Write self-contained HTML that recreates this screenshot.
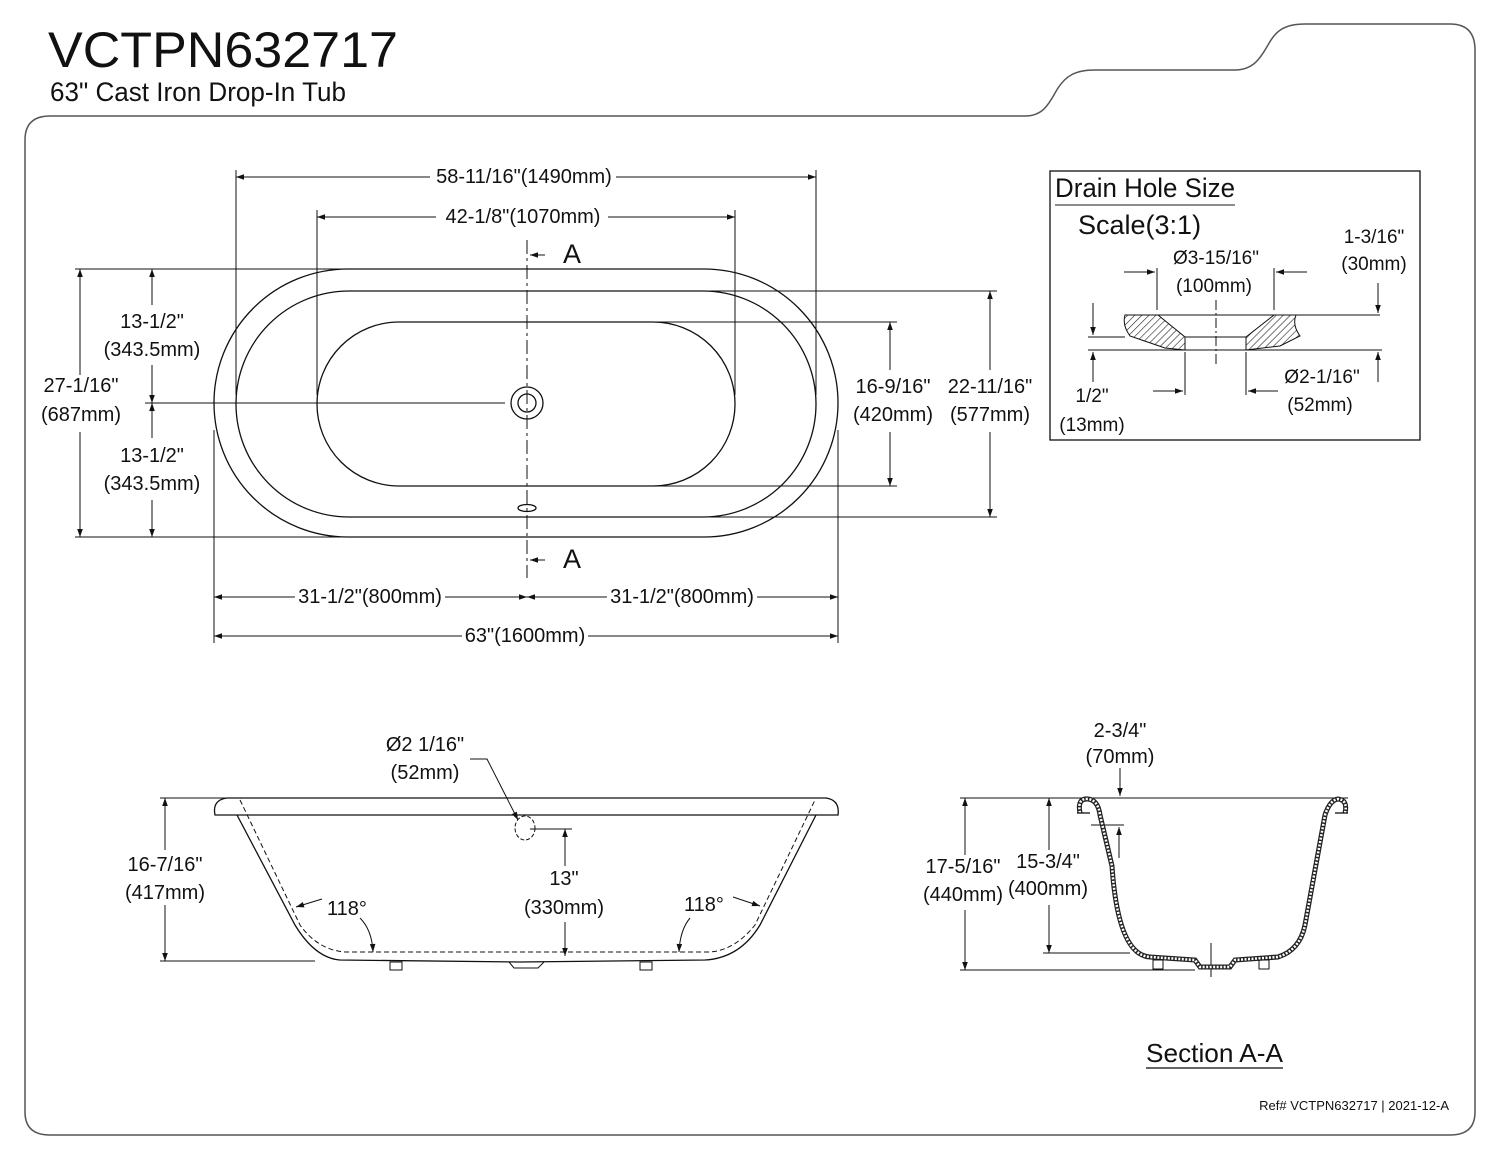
<!DOCTYPE html>
<html><head><meta charset="utf-8"><style>
html,body{margin:0;padding:0;background:#fff}
svg{display:block}
text{font-family:"Liberation Sans",sans-serif;fill:#111}
</style></head><body>
<svg width="1500" height="1159" viewBox="0 0 1500 1159" xmlns="http://www.w3.org/2000/svg">
<defs>
<marker id="ar" viewBox="0 0 10 10" refX="10" refY="5" markerWidth="12" markerHeight="8" orient="auto-start-reverse" markerUnits="userSpaceOnUse"><path d="M0,1.5 L10,5 L0,8.5 z" fill="#111"/></marker>
<pattern id="h" width="5" height="5" patternUnits="userSpaceOnUse" patternTransform="rotate(45)"><line x1="0" y1="0" x2="0" y2="5" stroke="#222" stroke-width="1.2"/></pattern>
</defs>
<text x="48" y="67" font-size="50" font-weight="400" textLength="350" lengthAdjust="spacingAndGlyphs">VCTPN632717</text>
<text x="50" y="101" font-size="27" textLength="296" lengthAdjust="spacingAndGlyphs">63" Cast Iron Drop-In Tub</text>
<path d="M50,116 L1025,116 C1045,116 1050,101 1058,88 C1066,76 1075,70 1095,70 L1235,70 C1255,70 1262,55 1268,45 C1275,32 1283,24 1305,24 L1450,24 Q1475,24 1475,50 L1475,1112 Q1475,1135 1450,1135 L50,1135 Q25,1135 25,1112 L25,140 Q25,116 50,116 Z" fill="none" stroke="#555" stroke-width="1.5"/>
<g fill="none" stroke="#111" stroke-width="1.3">
<rect x="214" y="269" width="624" height="268" rx="134"/>
<rect x="236" y="291" width="580" height="226" rx="113"/>
<rect x="317" y="322" width="418" height="164" rx="82"/>
<circle cx="527" cy="403" r="16"/><circle cx="527" cy="403" r="9"/>
<ellipse cx="527" cy="508" rx="9" ry="3.5"/>
<line x1="527" y1="240" x2="527" y2="578" stroke-dasharray="14,4,3,4" stroke-width="1"/>
</g>
<g stroke="#111" stroke-width="1" fill="none">
<line x1="236" y1="170" x2="236" y2="395"/><line x1="816" y1="170" x2="816" y2="395"/>
<line x1="236" y1="177" x2="430" y2="177" marker-start="url(#ar)"/><line x1="616" y1="177" x2="816" y2="177" marker-end="url(#ar)"/>
<line x1="317" y1="210" x2="317" y2="395"/><line x1="735" y1="210" x2="735" y2="395"/>
<line x1="317" y1="217" x2="436" y2="217" marker-start="url(#ar)"/><line x1="608" y1="217" x2="735" y2="217" marker-end="url(#ar)"/>
<line x1="545" y1="255" x2="530" y2="255" marker-end="url(#ar)"/>
<line x1="545" y1="560" x2="530" y2="560" marker-end="url(#ar)"/>
<line x1="75" y1="269" x2="345" y2="269"/><line x1="75" y1="537" x2="345" y2="537"/>
<line x1="80" y1="269" x2="80" y2="375" marker-start="url(#ar)"/><line x1="80" y1="432" x2="80" y2="537" marker-end="url(#ar)"/>
<line x1="145" y1="403" x2="505" y2="403"/>
<line x1="152" y1="269" x2="152" y2="305" marker-start="url(#ar)"/><line x1="152" y1="365" x2="152" y2="403" marker-end="url(#ar)"/>
<line x1="152" y1="403" x2="152" y2="438" marker-start="url(#ar)"/><line x1="152" y1="500" x2="152" y2="537" marker-end="url(#ar)"/>
<line x1="655" y1="322" x2="897" y2="322"/><line x1="655" y1="486" x2="897" y2="486"/>
<line x1="890" y1="322" x2="890" y2="370" marker-start="url(#ar)"/><line x1="890" y1="432" x2="890" y2="486" marker-end="url(#ar)"/>
<line x1="710" y1="291" x2="997" y2="291"/><line x1="710" y1="517" x2="997" y2="517"/>
<line x1="990" y1="291" x2="990" y2="370" marker-start="url(#ar)"/><line x1="990" y1="432" x2="990" y2="517" marker-end="url(#ar)"/>
<line x1="214" y1="430" x2="214" y2="643"/><line x1="838" y1="430" x2="838" y2="643"/>
<line x1="214" y1="597" x2="295" y2="597" marker-start="url(#ar)"/><line x1="445" y1="597" x2="527" y2="597" marker-end="url(#ar)"/>
<line x1="527" y1="597" x2="607" y2="597" marker-start="url(#ar)"/><line x1="757" y1="597" x2="838" y2="597" marker-end="url(#ar)"/>
<line x1="214" y1="636" x2="462" y2="636" marker-start="url(#ar)"/><line x1="588" y1="636" x2="838" y2="636" marker-end="url(#ar)"/>
</g>
<g font-size="20">
<text x="524" y="183" text-anchor="middle">58-11/16"(1490mm)</text>
<text x="523" y="223" text-anchor="middle">42-1/8"(1070mm)</text>
<text x="563" y="263" font-size="27">A</text><text x="563" y="568" font-size="27">A</text>
<text x="81" y="392" text-anchor="middle">27-1/16"</text><text x="81" y="421" text-anchor="middle">(687mm)</text>
<text x="152" y="328" text-anchor="middle">13-1/2"</text><text x="152" y="356" text-anchor="middle">(343.5mm)</text>
<text x="152" y="462" text-anchor="middle">13-1/2"</text><text x="152" y="490" text-anchor="middle">(343.5mm)</text>
<text x="893" y="393" text-anchor="middle">16-9/16"</text><text x="893" y="421" text-anchor="middle">(420mm)</text>
<text x="990" y="393" text-anchor="middle">22-11/16"</text><text x="990" y="421" text-anchor="middle">(577mm)</text>
<text x="370" y="603" text-anchor="middle">31-1/2"(800mm)</text>
<text x="682" y="603" text-anchor="middle">31-1/2"(800mm)</text>
<text x="525" y="642" text-anchor="middle">63"(1600mm)</text>
</g>
<rect x="1050" y="171" width="370" height="269" fill="none" stroke="#111" stroke-width="1.3"/>
<text x="1055" y="197" font-size="27" textLength="180" lengthAdjust="spacingAndGlyphs">Drain Hole Size</text>
<line x1="1055" y1="205" x2="1235" y2="205" stroke="#666" stroke-width="1.5"/>
<text x="1078" y="234" font-size="27">Scale(3:1)</text>
<g font-size="19">
<text x="1216" y="264" text-anchor="middle">Ø3-15/16"</text><text x="1214" y="292" text-anchor="middle">(100mm)</text>
<text x="1374" y="243" text-anchor="middle">1-3/16"</text><text x="1374" y="270" text-anchor="middle">(30mm)</text>
<text x="1322" y="383" text-anchor="middle">Ø2-1/16"</text><text x="1320" y="411" text-anchor="middle">(52mm)</text>
<text x="1092" y="402" text-anchor="middle">1/2"</text><text x="1092" y="431" text-anchor="middle">(13mm)</text>
</g>
<g stroke="#111" stroke-width="1">
<path d="M1125,315 L1158,315 L1185,337 L1185,350 L1165,348 L1130,336 Q1122,325 1125,315Z" fill="url(#h)"/>
<path d="M1296,315 L1274,315 L1246,337 L1246,350 L1280,346 L1300,336 Q1292,325 1296,315Z" fill="url(#h)"/>
<line x1="1130" y1="315" x2="1380" y2="315"/>
<line x1="1088" y1="337" x2="1125" y2="337"/><line x1="1185" y1="337" x2="1246" y2="337"/>
<line x1="1088" y1="350" x2="1382" y2="350"/>
<line x1="1216" y1="300" x2="1216" y2="365" stroke-dasharray="10,3,2,3"/>
<line x1="1157" y1="268" x2="1157" y2="310"/><line x1="1274" y1="268" x2="1274" y2="310"/>
<line x1="1124" y1="272" x2="1155" y2="272" marker-end="url(#ar)"/><line x1="1307" y1="272" x2="1276" y2="272" marker-end="url(#ar)"/>
<line x1="1185" y1="352" x2="1185" y2="395"/><line x1="1246" y1="352" x2="1246" y2="395"/>
<line x1="1153" y1="391" x2="1183" y2="391" marker-end="url(#ar)"/><line x1="1278" y1="391" x2="1248" y2="391" marker-end="url(#ar)"/>
<line x1="1378" y1="283" x2="1378" y2="313" marker-end="url(#ar)"/>
<line x1="1378" y1="382" x2="1378" y2="352" marker-end="url(#ar)"/>
<line x1="1093" y1="303" x2="1093" y2="335" marker-end="url(#ar)"/>
<line x1="1093" y1="382" x2="1093" y2="352" marker-end="url(#ar)"/>
</g>
<g fill="none" stroke="#111" stroke-width="1.3">
<path d="M227,798 L826,798 Q840,800 838,815 L215,815 Q212,800 227,798Z"/>
<path d="M237,815 L295,925 Q315,958 340,960 L520,962 L705,960 Q740,958 760,925 L816,815"/>
<path d="M240,800 L300,925 Q318,950 345,952 L710,952 Q735,950 755,925 L815,800" stroke-dasharray="5,3" stroke-width="1"/>
<ellipse cx="525" cy="828" rx="10" ry="12" stroke-dasharray="4,2" stroke-width="1"/>
<rect x="390" y="962" width="12" height="8" stroke-width="1"/><rect x="640" y="962" width="12" height="8" stroke-width="1"/>
<path d="M509,962 L514,968 L538,968 L544,962" stroke-width="1"/>
</g>
<g stroke="#111" stroke-width="1" fill="none">
<line x1="160" y1="798" x2="235" y2="798"/><line x1="160" y1="961" x2="315" y2="961"/>
<line x1="165" y1="798" x2="165" y2="850" marker-start="url(#ar)"/><line x1="165" y1="905" x2="165" y2="961" marker-end="url(#ar)"/>
<line x1="530" y1="829" x2="572" y2="829"/>
<line x1="565" y1="829" x2="565" y2="866" marker-start="url(#ar)"/><line x1="565" y1="922" x2="565" y2="956" marker-end="url(#ar)"/>
<path d="M470,759 L487,759 L518,820" marker-end="url(#ar)"/>
<path d="M322,899 L296,907" marker-end="url(#ar)"/>
<path d="M360,918 Q372,930 373,952" marker-end="url(#ar)"/>
<path d="M733,897 L760,906" marker-end="url(#ar)"/>
<path d="M690,918 Q680,930 679,952" marker-end="url(#ar)"/>
</g>
<g font-size="20">
<text x="425" y="751" text-anchor="middle">Ø2 1/16"</text><text x="425" y="779" text-anchor="middle">(52mm)</text>
<text x="165" y="871" text-anchor="middle">16-7/16"</text><text x="165" y="899" text-anchor="middle">(417mm)</text>
<text x="564" y="885" text-anchor="middle">13"</text><text x="564" y="914" text-anchor="middle">(330mm)</text>
<text x="347" y="915" text-anchor="middle">118°</text><text x="704" y="911" text-anchor="middle">118°</text>
</g>
<g stroke="#111" stroke-width="1" fill="none">
<line x1="960" y1="798" x2="1348" y2="798"/><line x1="960" y1="970" x2="1195" y2="970"/>
<line x1="965" y1="798" x2="965" y2="855" marker-start="url(#ar)"/><line x1="965" y1="910" x2="965" y2="970" marker-end="url(#ar)"/>
<line x1="1043" y1="953" x2="1130" y2="953"/>
<line x1="1049" y1="798" x2="1049" y2="850" marker-start="url(#ar)"/><line x1="1049" y1="905" x2="1049" y2="953" marker-end="url(#ar)"/>
<line x1="1120" y1="768" x2="1120" y2="796" marker-end="url(#ar)"/>
<line x1="1091" y1="825" x2="1124" y2="825"/>
<line x1="1119" y1="858" x2="1119" y2="827" marker-end="url(#ar)"/>
<line x1="1211" y1="943" x2="1211" y2="977"/>
<path d="M1080,813 Q1077,798 1088,799 Q1098,800 1100,815 L1112,866 Q1118,955 1150,957 L1195,960 L1200,967 L1230,967 L1235,960 L1278,957 Q1300,950 1305,925 L1325,815 Q1330,800 1338,799 Q1348,800 1345,813" fill="none" stroke="#222" stroke-width="5"/>
<path d="M1080,813 Q1077,798 1088,799 Q1098,800 1100,815 L1112,866 Q1118,955 1150,957 L1195,960 L1200,967 L1230,967 L1235,960 L1278,957 Q1300,950 1305,925 L1325,815 Q1330,800 1338,799 Q1348,800 1345,813" fill="none" stroke="#fff" stroke-width="2.5" stroke-dasharray="2,1.5"/>
<line x1="1077" y1="813" x2="1090" y2="813" stroke-width="1.3"/><line x1="1335" y1="813" x2="1348" y2="813" stroke-width="1.3"/>
<rect x="1153" y="960" width="10" height="9"/><rect x="1259" y="960" width="10" height="9"/>
</g>
<g font-size="20">
<text x="1120" y="737" text-anchor="middle">2-3/4"</text><text x="1120" y="763" text-anchor="middle">(70mm)</text>
<text x="963" y="873" text-anchor="middle">17-5/16"</text><text x="963" y="901" text-anchor="middle">(440mm)</text>
<text x="1048" y="868" text-anchor="middle">15-3/4"</text><text x="1048" y="895" text-anchor="middle">(400mm)</text>
</g>
<text x="1146" y="1062" font-size="26" textLength="137" lengthAdjust="spacingAndGlyphs">Section A-A</text>
<line x1="1146" y1="1068" x2="1283" y2="1068" stroke="#333" stroke-width="1.5"/>
<text x="1449" y="1110" font-size="13" text-anchor="end">Ref# VCTPN632717 | 2021-12-A</text>
</svg>
</body></html>
